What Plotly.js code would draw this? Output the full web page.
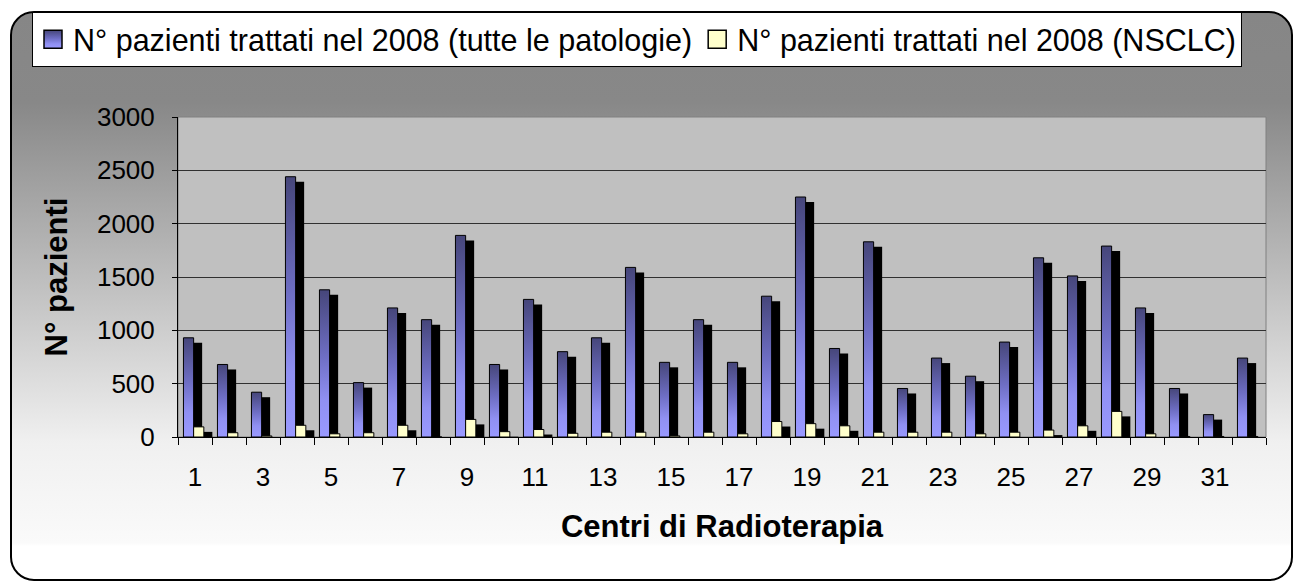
<!DOCTYPE html>
<html><head><meta charset="utf-8">
<script src="https://cdn.plot.ly/plotly-3.0.1.min.js"></script>
<style>
html,body{margin:0;padding:0;background:#fff;width:1294px;height:582px;overflow:hidden;}
#frame{position:absolute;left:10px;top:11px;width:1279px;height:566px;border:2px solid #000;border-radius:24px;
background:linear-gradient(to bottom,#868686 0px,#888888 90px,#f0f0f0 430px,#fafafa 530px,#ffffff 533px);}
#chart{position:absolute;left:0;top:0;width:1294px;height:582px;}
</style></head><body>
<div id="frame"></div><div id="chart"></div>
<script>
// ---- data ----
const centri = [1,2,3,4,5,6,7,8,9,10,11,12,13,14,15,16,17,18,19,20,21,22,23,24,25,26,27,28,29,30,31,32];
const pazientiTutte = [930,680,420,2440,1380,510,1210,1100,1890,680,1290,800,930,1590,700,1100,700,1320,2250,830,1830,455,740,570,890,1680,1510,1790,1210,455,210,740];
const pazientiNSCLC = [95,40,10,110,30,40,110,0,165,50,70,35,45,45,10,45,30,145,125,105,45,45,45,30,45,65,105,240,30,5,5,5];
const tickValori = [1,3,5,7,9,11,13,15,17,19,21,23,25,27,29,31];
const tickTesti = ['1','3','5','7','9','11','13','15','17','19','21','23','25','27','29','31'];
const nomeTutte = 'N° pazienti trattati nel 2008 (tutte le patologie)';
const nomeNSCLC = 'N° pazienti trattati nel 2008 (NSCLC)';

// ---- style constants ----
const BAR_W = 0.3;
const OFF_BLU = -0.34, OFF_GIALLO = -0.04, SHIFT_OMBRA = 0.25;
const Y_MAX = 3000, PLOT_H = 320;
const OMBRA_DY = 5 * Y_MAX / PLOT_H; // 5px shadow drop
const FONT = 'Liberation Sans, Arial, sans-serif';

const traces = [
  {type:'bar', x:centri, y:pazientiTutte, base:-OMBRA_DY, width:BAR_W, offset:OFF_BLU+SHIFT_OMBRA,
   marker:{color:'#000', line:{width:0}}, showlegend:false, hoverinfo:'skip'},
  {type:'bar', x:centri, y:pazientiTutte, name:nomeTutte, width:BAR_W, offset:OFF_BLU,
   marker:{color:'#7575cc', line:{color:'#000', width:1}}},
  {type:'bar', x:centri, y:pazientiNSCLC, base:-OMBRA_DY, width:BAR_W, offset:OFF_GIALLO+SHIFT_OMBRA,
   marker:{color:'#000', line:{width:0}}, showlegend:false, hoverinfo:'skip'},
  {type:'bar', x:centri, y:pazientiNSCLC, name:nomeNSCLC, width:BAR_W, offset:OFF_GIALLO,
   marker:{color:'#ffffcc', line:{color:'#000', width:1}}}
];

const layout = {
  width:1294, height:582,
  margin:{l:178, r:28, t:117, b:145, pad:0},
  paper_bgcolor:'rgba(0,0,0,0)',
  plot_bgcolor:'#c0c0c0',
  barmode:'overlay',
  font:{family:FONT, color:'#000', size:26},
  showlegend:true,
  legend:{orientation:'h', x:(32-178)/1088, y:(437-12)/320, xanchor:'left', yanchor:'top',
          bgcolor:'#ffffff', bordercolor:'#000', borderwidth:1, font:{size:30.5, family:FONT, color:'#000'},
          traceorder:'normal'},
  xaxis:{type:'linear', range:[0.5,32.5], showgrid:false, zeroline:false,
         showline:true, linecolor:'#000', linewidth:1,
         tickmode:'array', tickvals:tickValori, ticktext:tickTesti, ticks:'',
         ticklabelstandoff:17,
         minor:{tickmode:'linear', tick0:0.5, dtick:1, ticks:'outside', ticklen:7, tickcolor:'#000', tickwidth:1, showgrid:false},
         tickfont:{size:26, family:FONT, color:'#000'},
         title:{text:'<b>Centri di Radioterapia</b>', font:{size:31, family:FONT, color:'#000'}, standoff:24},
         fixedrange:true},
  yaxis:{range:[0,Y_MAX], dtick:500, tick0:0, showgrid:true, gridcolor:'#303030', gridwidth:1,
         zeroline:false, showline:true, linecolor:'#000', linewidth:1,
         ticks:'outside', ticklen:5, tickcolor:'#000', ticklabelstandoff:12,
         tickfont:{size:26, family:FONT, color:'#000'},
         title:{text:'<b>N° pazienti</b>', font:{size:31, family:FONT, color:'#000'}, standoff:20},
         fixedrange:true},
  shapes:[{type:'rect', xref:'paper', yref:'paper', x0:0, x1:1, y0:0, y1:1,
           line:{color:'#808080', width:1}, layer:'below'}]
};

const gd = document.getElementById('chart');
function applyGradient(){
  const svg = gd.querySelector('svg.main-svg');
  if(!svg) return;
  const NS = 'http://www.w3.org/2000/svg';
  if(!document.getElementById('gradBlu')){
    let defs = svg.querySelector('defs');
    if(!defs){ defs = document.createElementNS(NS,'defs'); svg.insertBefore(defs, svg.firstChild); }
    const g = document.createElementNS(NS,'linearGradient');
    g.setAttribute('id','gradBlu'); g.setAttribute('x1','0'); g.setAttribute('y1','0');
    g.setAttribute('x2','0'); g.setAttribute('y2','1');
    [['0','#46467a'],['0.45','#6e6ec4'],['0.75','#9090f2'],['1','#9999ff']].forEach(([o,c])=>{
      const s = document.createElementNS(NS,'stop'); s.setAttribute('offset',o); s.setAttribute('stop-color',c); g.appendChild(s);
    });
    defs.appendChild(g);
  }
  const tr = gd.querySelectorAll('.barlayer .trace');
  if(tr[1]) tr[1].querySelectorAll('path').forEach(p=>{ p.style.fill='url(#gradBlu)'; });
  const lt = gd.querySelectorAll('.legend .traces');
  lt.forEach((t,i)=>{
    t.querySelectorAll('.legendpoints path').forEach(p=>{
      if(p.dataset.t0 === undefined) p.dataset.t0 = p.getAttribute('transform') || '';
      p.setAttribute('transform', p.dataset.t0 + ' scale(1.5)');
      p.style.strokeWidth = '1px';
      if(i===0) p.style.fill='url(#gradBlu)';
    });
  });
}
Plotly.newPlot(gd, traces, layout, {displayModeBar:false, staticPlot:true}).then(()=>{
  applyGradient();
  setTimeout(applyGradient, 0);
  setTimeout(applyGradient, 150);
  gd.on && gd.on('plotly_afterplot', applyGradient);
});
</script>
</body></html>
